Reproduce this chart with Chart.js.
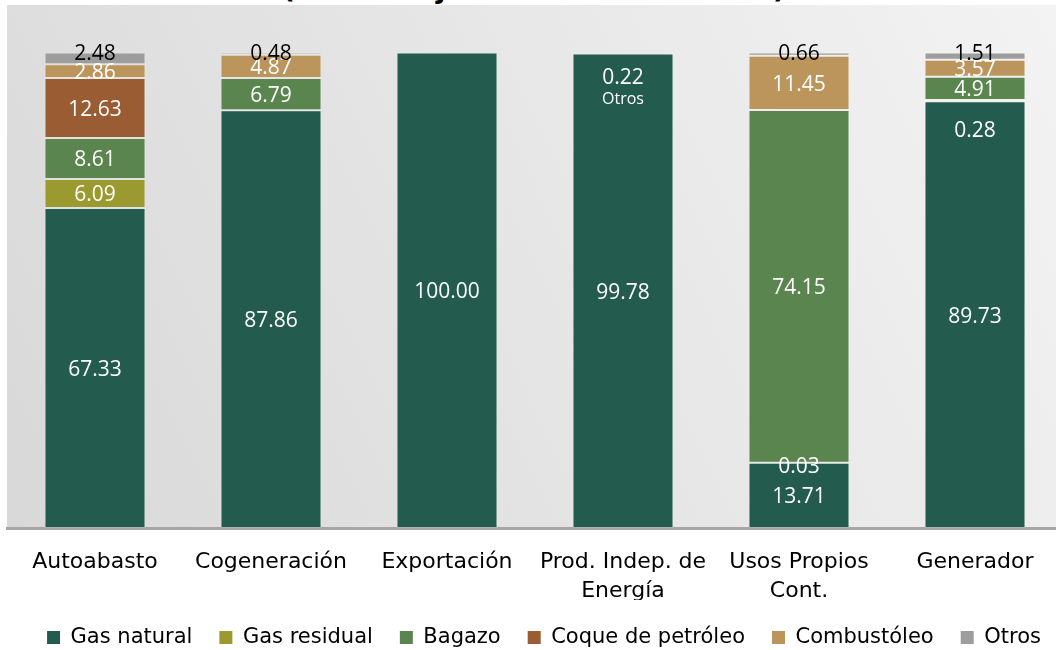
<!DOCTYPE html>
<html lang="es">
<head>
<meta charset="utf-8">
<script src="https://cdn.jsdelivr.net/npm/chart.js@4"></script>
<style>
  html, body { margin: 0; padding: 0; background: #fff; overflow: hidden; }
  #wrap { position: relative; width: 1056px; height: 650px; overflow: hidden; }
  #titulo {
    position: absolute; left: 0; width: 1068px; top: -26px;
    text-align: center; font: bold 28px "DejaVu Sans", sans-serif; line-height: 30px; color: #000;
  }
  #grafica { position: absolute; left: 0; top: 0; }
</style>
</head>
<body>
<div id="wrap">
  <div id="titulo">(Porcentaje de cada modalidad)</div>
  <canvas id="grafica" width="1070" height="658"></canvas>
</div>
<script>
// Participación por combustible en cada modalidad (%)
const categorias = ['Autoabasto', 'Cogeneración', 'Exportación', ['Prod. Indep. de', 'Energía'], ['Usos Propios', 'Cont.'], 'Generador'];
const gasNatural  = [67.33, 87.86, 100.00, 99.78, 13.71, 89.73];
const gasResidual = [6.09, null, null, null, 0.03, 0.28];
const bagazo      = [8.61, 6.79, null, null, 74.15, 4.91];
const coque       = [12.63, null, null, null, null, null];
const combustoleo = [2.86, 4.87, null, null, 11.45, 3.57];
const otros       = [2.48, 0.48, null, 0.22, 0.66, 1.51];

const series = [
  { label: 'Gas natural', data: gasNatural, color: '#235b4e' },
  { label: 'Gas residual', data: gasResidual, color: '#9b9a30' },
  { label: 'Bagazo', data: bagazo, color: '#5a854f' },
  { label: 'Coque de petróleo', data: coque, color: '#9a5c33' },
  { label: 'Combustóleo', data: combustoleo, color: '#bc955c' },
  { label: 'Otros', data: otros, color: '#9d9d9d' }
];

const FUENTE = '"DejaVu Sans", sans-serif';
const FUENTE_NUM = '"Open Sans", sans-serif';

// fondo gris degradado detrás del área de barras
const fondoArea = {
  id: 'fondoArea',
  beforeDraw(chart) {
    const { ctx, chartArea: a } = chart;
    const g = ctx.createLinearGradient(a.left, a.bottom, a.right, a.top);
    g.addColorStop(0, '#d8d8d8');
    g.addColorStop(1, '#f3f3f3');
    ctx.save();
    ctx.fillStyle = g;
    ctx.fillRect(a.left, a.top, a.right - a.left, a.bottom - a.top);
    ctx.restore();
  }
};

// la leyenda va un poco corrida a la derecha
const leyendaCorrida = {
  id: 'leyendaCorrida',
  afterLayout(chart) {
    chart.legend.left += 9;
    chart.legend.right += 9;
  }
};

// etiquetas de valor sobre cada segmento
const etiquetas = {
  id: 'etiquetas',
  afterDatasetsDraw(chart) {
    const { ctx } = chart;
    ctx.save();
    ctx.textAlign = 'center';
    ctx.textBaseline = 'middle';
    const n = chart.data.labels.length;
    for (let j = 0; j < n; j++) {
      let previo = null; // segmento de abajo
      chart.data.datasets.forEach((ds, i) => {
        const v = ds.data[j];
        if (v == null) return;
        const el = chart.getDatasetMeta(i).data[j];
        const txt = v.toFixed(2);
        const alto = el.base - el.y;
        ctx.font = '21px ' + FUENTE_NUM;
        if (ds.label === 'Otros') {
          if (previo && previo.ds === 0) {
            ctx.fillStyle = '#fff';
            ctx.fillText(txt, el.x, el.y + 25);
            ctx.font = '16px ' + FUENTE_NUM;
            ctx.fillText(ds.label, el.x, el.y + 47);
          } else {
            ctx.fillStyle = '#000';
            ctx.fillText(txt, el.x, el.y + 1);
          }
        } else if (v < 1 && previo) {
          // segmento muy delgado: el número va debajo, dentro del de abajo
          ctx.fillStyle = '#fff';
          ctx.fillText(txt, el.x, el.base + Math.min(30, previo.alto / 14));
        } else {
          ctx.fillStyle = '#fff';
          ctx.fillText(txt, el.x, el.y + alto / 2 + 2);
        }
        previo = { ds: i, alto };
      });
    }
    ctx.restore();
  }
};

new Chart(document.getElementById('grafica'), {
  type: 'bar',
  data: {
    labels: categorias,
    datasets: series.map(s => ({
      label: s.label,
      data: s.data,
      backgroundColor: s.color,
      borderColor: 'rgba(255,255,255,0.12)',
      borderWidth: 1,
      borderSkipped: false,
      categoryPercentage: 1,
      barPercentage: 0.574
    }))
  },
  options: {
    responsive: false,
    devicePixelRatio: 1,
    animation: false,
    layout: { padding: { left: 7, right: 7, top: 5, bottom: 0 } },
    scales: {
      x: {
        stacked: true,
        grid: { display: false, drawTicks: false },
        border: { display: true, color: '#a6a6a6', width: 3 },
        ticks: { color: '#000', font: { family: FUENTE, size: 22, lineHeight: 1.32 }, padding: 20, maxRotation: 0, autoSkip: false },
        afterFit(scale) { scale.height = 72; }
      },
      y: { stacked: true, display: false, min: 0, max: 110 }
    },
    plugins: {
      tooltip: { enabled: false },
      legend: {
        position: 'bottom',
        labels: {
          color: '#000',
          font: { family: FUENTE, size: 21 },
          boxWidth: 13,
          boxHeight: 13,
          padding: 27,
          generateLabels(chart) {
            return Chart.defaults.plugins.legend.labels.generateLabels(chart)
              .map(it => Object.assign(it, { lineWidth: 0, strokeStyle: 'transparent' }));
          }
        }
      }
    }
  },
  plugins: [fondoArea, leyendaCorrida, etiquetas]
});
</script>
</body>
</html>
